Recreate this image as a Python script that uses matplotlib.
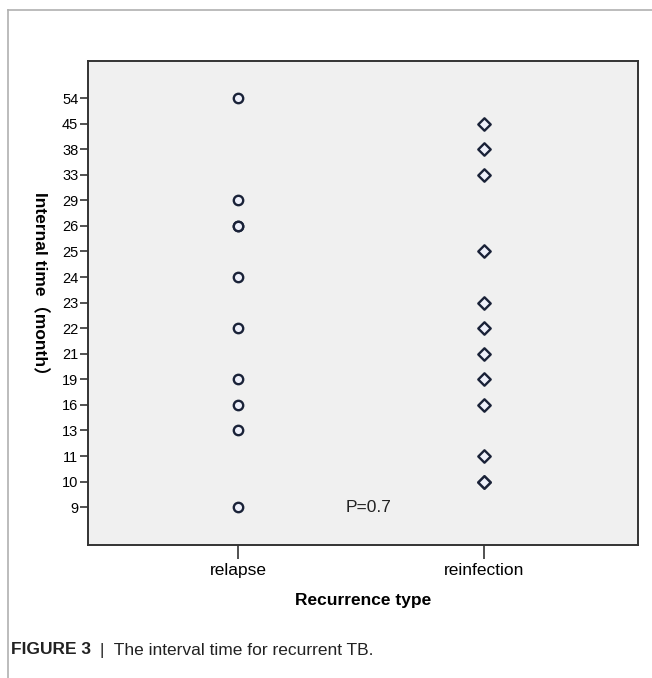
import matplotlib
matplotlib.use("Agg")
import matplotlib.pyplot as plt
from matplotlib.lines import Line2D

# categorical y levels (as shown on the axis)
levels = ["9", "10", "11", "13", "16", "19", "21", "22", "23", "24",
          "25", "26", "29", "33", "38", "45", "54"]
groups = ["relapse", "reinfection"]
relapse = ["54", "29", "26", "26", "24", "22", "19", "16", "13", "9"]
reinfection = ["45", "38", "33", "25", "23", "22", "21", "19", "16", "11", "10", "10"]

plt.rcParams["font.family"] = ["Liberation Sans", "Noto Sans CJK SC", "DejaVu Sans"]

W, H = 652, 678
fig = plt.figure(figsize=(W / 100, H / 100), dpi=100)

# outer frame lines of the figure panel
fig.add_artist(Line2D([8 / W, 1], [1 - 10 / H, 1 - 10 / H], color="#b0b0b0", lw=1.2))
fig.add_artist(Line2D([8 / W, 8 / W], [0, 1 - 10 / H], color="#b0b0b0", lw=1.2))

ax = fig.add_axes([88 / W, 1 - 545 / H, (638 - 88) / W, (545 - 61) / H])
ax.set_facecolor("#f0f0f0")

ypos = {v: i for i, v in enumerate(levels)}
ax.scatter([0] * len(relapse), [ypos[v] for v in relapse], marker="o", s=46,
           facecolor="#eef0fa", edgecolor="#1a2238", linewidths=1.7, zorder=3)
ax.scatter([1] * len(reinfection), [ypos[v] for v in reinfection], marker="D", s=40,
           facecolor="#eef0fa", edgecolor="#1a2238", linewidths=1.7, zorder=3)

ax.set_xlim(-0.61, 1.626)
ax.set_ylim(-1.48, 17.45)
ax.set_yticks(range(len(levels)))
ax.set_yticklabels(levels, fontsize=10.5)
ax.set_xticks([0, 1])
ax.set_xticklabels(groups, fontsize=12.5)
ax.tick_params(axis="y", length=6, width=1.2, color="#333333", pad=1)
ax.tick_params(axis="x", length=10, width=1.2, color="#333333", pad=3)
for s in ax.spines.values():
    s.set_color("#333333")
    s.set_linewidth(1.4)

ax.text(0.53, ypos["9"], "P=0.7", fontsize=12.5, ha="center", va="center", color="#222222")

ax.set_xlabel("Recurrence type", fontsize=12.5, fontweight="bold", labelpad=11)
fig.text(40 / W, 1 - 288 / H, "Internal time（month）", rotation=270, fontsize=12.5,
         fontweight="bold", ha="center", va="center")

fig.text(8 / W + 0.005, 1 - 650 / H, "FIGURE 3", fontsize=12.5, fontweight="bold",
         ha="left", va="center", color="#222222")
fig.text(100 / W, 1 - 650 / H, "|  The interval time for recurrent TB.", fontsize=12.5,
         ha="left", va="center", color="#222222")

fig.savefig("out.png", dpi=100)
